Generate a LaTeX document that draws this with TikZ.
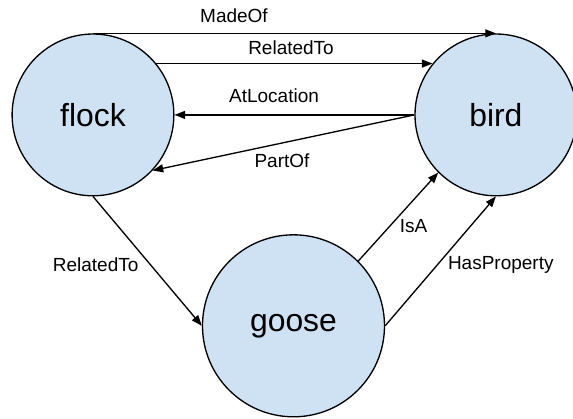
\documentclass[tikz,border=0pt]{standalone}
\usepackage{fontspec}
\setmainfont{Liberation Sans}
\usepackage{xcolor}
\usepackage{tikz}
\usetikzlibrary{positioning,arrows.meta}
\definecolor{conceptfill}{HTML}{CFE2F3}

\begin{document}
\begin{tikzpicture}[
    concept/.style={circle,draw=black,line width=1pt,fill=conceptfill,
                    minimum size=4.28cm,inner sep=0pt,
                    font=\fontsize{24}{29}\selectfont},
    rel/.style={-{Triangle[length=8pt,width=6pt]},line width=1pt},
    rlabel/.style={font=\fontsize{14.3}{17}\selectfont,anchor=base},
  ]
    \useasboundingbox (0,0) rectangle (15.16,-11.085);

    % concepts
    \node[concept] (flock) at ( 2.46,-3.04) {flock};
    \node[concept] (bird)  at (13.12,-3.04) {bird};
    \node[concept,minimum size=4.815cm] (goose) at (7.765,-8.62) {goose};

    % relations between the concepts
    \draw[rel] (flock.north) -- (bird.north);
    \draw[rel] (flock.39)    -- (bird.141);
    \draw[rel] (bird.west)   -- (flock.east);
    \draw[rel] (bird.west)   -- (flock.-43);
    \draw[rel] (flock.south) -- (goose.west);
    \draw[rel] (goose.45)    -- (bird.225);
    \draw[rel] (goose.east)  -- (bird.south);

    % relation names, placed by their baselines
    \node[rlabel] (madeof)     at ( 6.19,-0.600) {MadeOf};
    \node[rlabel] (relto)      at ( 7.70,-1.455) {RelatedTo};
    \node[rlabel] (atloc)      at ( 7.25,-2.717) {AtLocation};
    \node[rlabel] (partof)     at ( 7.46,-4.437) {PartOf};
    \node[rlabel] (reltogoose) at ( 2.53,-7.196) {RelatedTo};
    \node[rlabel] (isa)        at (10.94,-6.164) {IsA};
    \node[rlabel] (hasprop)    at (13.25,-7.124) {HasProperty};
  \end{tikzpicture}
\end{document}
